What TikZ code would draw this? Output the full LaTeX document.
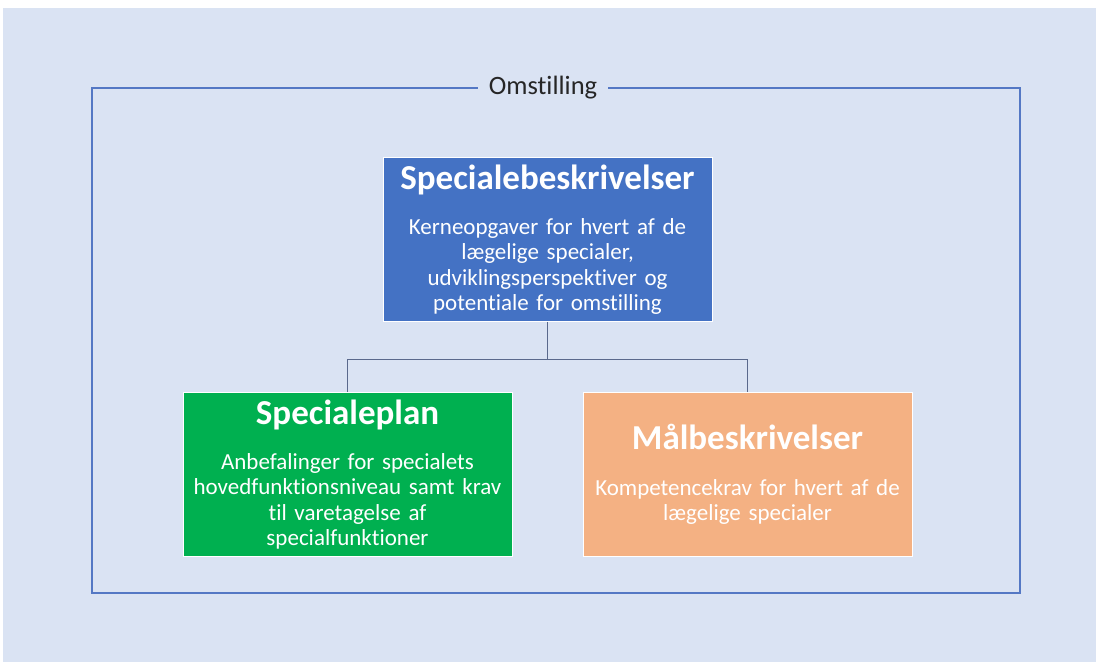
\documentclass[tikz,border=0pt]{standalone}
\usepackage{fontspec}
\setmainfont{Carlito}[RawFeature=-liga]
\usetikzlibrary{positioning}

\definecolor{bgblue}{RGB}{218,227,243}
\definecolor{frameblue}{RGB}{84,120,196}
\definecolor{boxblue}{RGB}{68,114,196}
\definecolor{boxgreen}{RGB}{0,176,80}
\definecolor{boxorange}{RGB}{244,177,131}
\definecolor{linkgrey}{RGB}{90,105,140}

\begin{document}
\begin{tikzpicture}[x=1pt, y=-1pt,
    box/.style={draw=white, line width=0.8pt, minimum width=329pt, minimum height=164pt,
      text width=325pt, align=center, text=white, inner sep=0pt,
      font=\fontsize{23}{25.3}\selectfont},
    link/.style={draw=linkgrey, line width=0.9pt}
]
\useasboundingbox (0,0) rectangle (1096,662);
\fill[bgblue] (3,8) rectangle (1096,662);

% boxes
\node[box, fill=boxblue] (spec) at (547.5,239.5)
  {{\bfseries\fontsize{35}{38}\selectfont Specialebeskrivelser}\\[20pt]
   Kerneopgaver for hvert af de\\ lægelige specialer,\\
   udviklingsperspektiver og\\ potentiale for omstilling};
\node[box, fill=boxgreen] (plan) at (347.5,474.5)
  {{\bfseries\fontsize{35}{38}\selectfont Specialeplan}\\[20pt]
   Anbefalinger for specialets\\ hovedfunktionsniveau samt krav\\
   til varetagelse af\\ specialfunktioner};
\node[box, fill=boxorange] (maal) at (747.5,474.5)
  {{\bfseries\fontsize{35}{38}\selectfont Målbeskrivelser}\\[20pt]
   Kompetencekrav for hvert af de\\ lægelige specialer};

% connectors
\coordinate (fork) at (547.5,359);
\draw[link] (spec.south) -- (fork) -| (plan.north);
\draw[link] (fork) -| (maal.north);

% frame with title
\node[font=\fontsize{26.5}{30}\selectfont, text=black!85, inner xsep=11pt] (omst) at (543,88) {Omstilling};
\draw[frameblue, line width=1.4pt] (omst.west) -- (92,88) -- (92,593) -- (1020,593) -- (1020,88) -- (omst.east);
\end{tikzpicture}
\end{document}
